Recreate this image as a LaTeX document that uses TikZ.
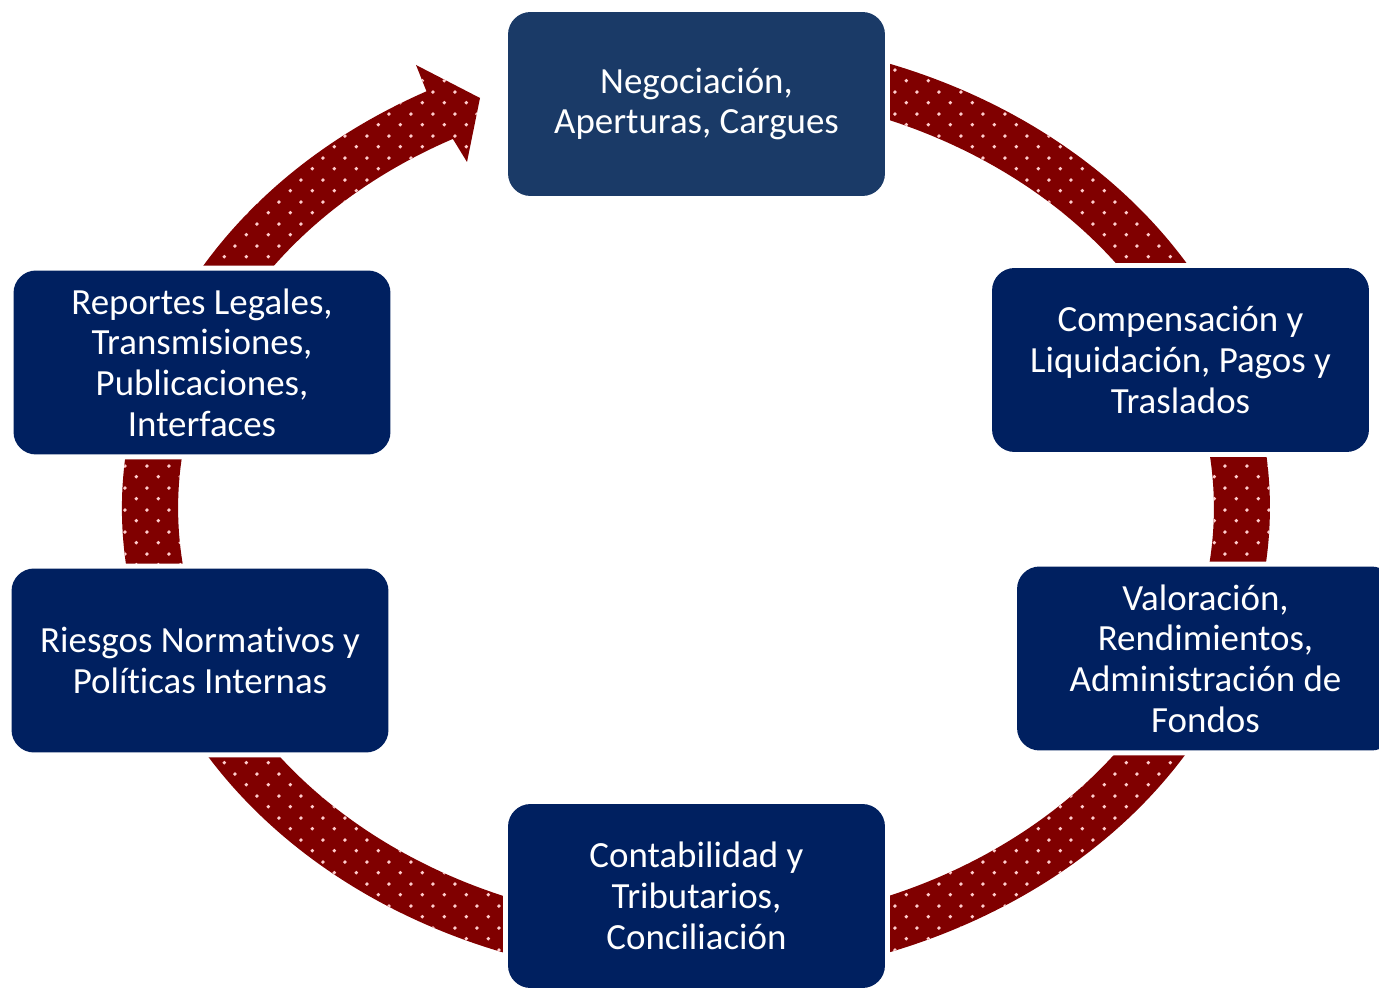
\documentclass[tikz,border=0pt]{standalone}
\usepackage{fontspec}
\setmainfont{Carlito}[Ligatures={NoCommon,NoRare},Contextuals=NoAlternate]
\usepackage{tikz}
\usetikzlibrary{patterns}
\definecolor{navy}{HTML}{002060}
\definecolor{topblue}{HTML}{1A3A67}
\definecolor{maroon}{HTML}{800000}
\pgfdeclarepatternformonly{wdots}{\pgfpointorigin}{\pgfqpoint{12.3pt}{12.3pt}}{\pgfqpoint{12.3pt}{12.3pt}}{
\pgfpathcircle{\pgfqpoint{3.075pt}{3.075pt}}{1.1pt}
\pgfpathcircle{\pgfqpoint{9.225pt}{9.225pt}}{1.1pt}
\pgfusepath{fill}
}

\begin{document}
\begin{tikzpicture}[x=0.02cm,y=0.02cm,
box/.style={rectangle,rounded corners=0.45cm,fill=navy,text=white,align=center,
 minimum width=7.54cm,minimum height=3.68cm,inner sep=0pt,
 font=\fontsize{21}{23.2}\selectfont,
 preaction={draw=white,line width=0.2cm}},
ring/.style={fill=maroon,postaction={pattern=wdots,pattern color=white!80!red}}]
\useasboundingbox (0,0) rectangle (1379,988);
\clip (0,0) rectangle (1379,988);
% ring with arrow head
\path[ring] (426.5,896.7) arc[start angle=118,end angle=450,x radius=11.48cm,y radius=9.44cm]
 -- (696,898) arc[start angle=450,end angle=118,x radius=10.36cm,y radius=8.36cm]
 -- (467,826) -- (480,890) -- (416,923) -- cycle;
% steps
\node[box,fill=topblue] (nego) at (696.5,884) {Negociación,\\Aperturas, Cargues};
\node[box] (comp) at (1180.5,628) {Compensación y\\Liquidación, Pagos y\\Traslados};
\node[box] (valo) at (1205.5,329.5) {Valoración,\\Rendimientos,\\Administración de\\Fondos};
\node[box] (conta) at (696.5,92) {Contabilidad y\\Tributarios,\\Conciliación};
\node[box] (ries) at (200,327.5) {Riesgos Normat\kern0pt ivos y\\Polít\kern0pt icas Internas};
\node[box] (repo) at (202,625.5) {Reportes Legales,\\Transmisiones,\\Publicaciones,\\Interfaces};
\end{tikzpicture}
\end{document}
